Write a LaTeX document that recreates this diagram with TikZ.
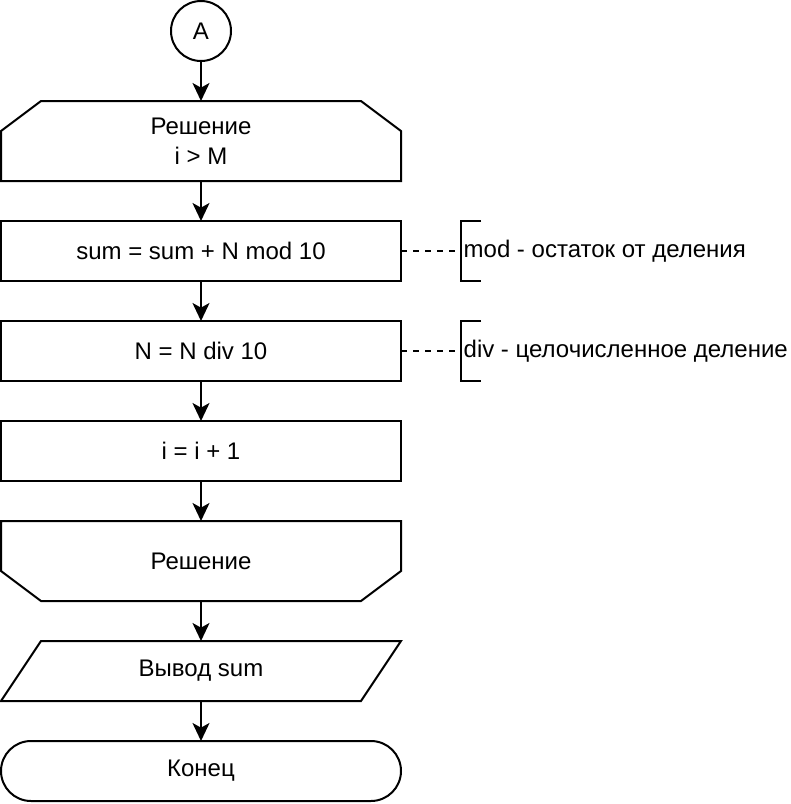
\documentclass[tikz,border=0pt]{standalone}
\usepackage{fontspec}
\setmainfont{Liberation Sans}
\usetikzlibrary{arrows.meta,positioning}

\begin{document}
\begin{tikzpicture}[x=0.75pt,y=-0.75pt,line width=1.5pt,node distance=30pt,
  >={Stealth[length=13.5pt,width=12.75pt,inset=3.5pt]},
  font=\fontsize{18}{22.5}\selectfont,
  every node/.style={outer sep=0pt},
  conn/.style={circle,draw,minimum size=45pt,inner sep=0pt},
  block/.style={rectangle,draw,minimum width=300pt,minimum height=45pt,align=center},
  loopbox/.style={rectangle,minimum width=300pt,minimum height=60pt,align=center},
  iobox/.style={rectangle,minimum width=300pt,minimum height=45pt},
  term/.style={block,rounded corners=22.5pt},
  note/.style={rectangle,inner sep=2pt,minimum height=45pt,anchor=west},
  noteline/.style={dash pattern=on 4.5pt off 4.5pt}]
\useasboundingbox (0,0) rectangle (790,804);
% main chain
\node[conn] (a) at (201,31) {A};
\node[loopbox,below=of a] (ls) {Решение\\i > M} edge[<-] (a);
\node[block,below=of ls] (sum) {sum = sum + N mod 10} edge[<-] (ls);
\node[block,below=of sum] (div) {N = N div 10} edge[<-] (sum);
\node[block,below=of div] (inc) {i = i + 1} edge[<-] (div);
\node[loopbox,below=of inc] (le) {Решение} edge[<-] (inc);
\node[iobox,below=of le] (out) {Вывод sum} edge[<-] (le);
\node[term,below=of out] (end) {Конец} edge[<-] (out);
% loop limits and output
\draw ([xshift=30pt]ls.north west) -- ([xshift=-30pt]ls.north east)
  -- ([yshift=-22.5pt]ls.north east) -- (ls.south east) -- (ls.south west)
  -- ([yshift=-22.5pt]ls.north west) -- cycle;
\draw (le.north west) -- (le.north east) -- ([yshift=22.5pt]le.south east)
  -- ([xshift=-30pt]le.south east) -- ([xshift=30pt]le.south west)
  -- ([yshift=22.5pt]le.south west) -- cycle;
\draw ([xshift=30pt]out.north west) -- (out.north east)
  -- ([xshift=-30pt]out.south east) -- (out.south west) -- cycle;
% comments
\node[note,right=45pt of sum] (mod) {mod - остаток от деления};
\node[note,right=45pt of div] (dv) {div - целочисленное деление};
\draw ([xshift=15pt]mod.north west) -- (mod.north west) -- (mod.south west)
  -- ([xshift=15pt]mod.south west);
\draw ([xshift=15pt]dv.north west) -- (dv.north west) -- (dv.south west)
  -- ([xshift=15pt]dv.south west);
\draw[noteline] (sum) -- (mod);
\draw[noteline] (div) -- (dv);
\end{tikzpicture}
\end{document}
